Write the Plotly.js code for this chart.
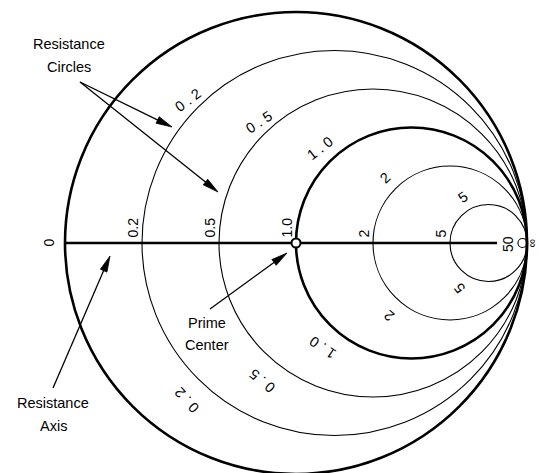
<!DOCTYPE html>
<html>
<head>
<meta charset="utf-8">
<script src="https://cdn.plot.ly/plotly-3.0.1.min.js"></script>
<style>html,body{margin:0;padding:0;background:#fff;}#chart{width:539px;height:473px;}</style>
</head>
<body>
<div id="chart"></div>
<script>
// ---- data ----
const circleResistances = [0, 0.2, 0.5, 1.0, 2, 5, 50];
const labelResistances = [0.2, 0.5, 1.0, 2, 5];
const labelTexts = ['0.2', '0.5', '1.0', '2', '5'];
const axisEndLabels = ['0', '50', '∞'];
const primeCenter = [0];
const calloutTexts = [['Resistance', 'Circles'], ['Resistance', 'Axis'], ['Prime', 'Center']];

// ---- layout geometry (pixels) ----
const W = 539, H = 473, CX = 296, CY = 243, RP = 231;
const px2x = p => (p - CX) / RP;
const py2y = p => (CY - p) / RP;
const FONT = 'Liberation Sans, Arial, sans-serif';

const shapes = [];
const annotations = [];

// resistance circles
circleResistances.forEach(r => {
  const c = r / (1 + r), rad = 1 / (1 + r);
  const thick = (r === 0 || r === 1);
  shapes.push({type: 'circle', xref: 'x', yref: 'y', x0: c - rad, x1: c + rad, y0: -rad, y1: rad,
    line: {color: '#000', width: thick ? 2.6 : 1.1}, layer: 'below'});
});
// resistance axis
shapes.push({type: 'line', xref: 'x', yref: 'y', x0: -1, x1: px2x(497), y0: 0, y1: 0,
  line: {color: '#000', width: 2.6}, layer: 'below'});

// circle labels (top and bottom)
const topPlace = [[135.7, 12, -37], [133.3, 12, -33], [133.9, 16, -38], [135, 15, -42], [119, 14, -35]];
const botPlace = [[-133.2, 23, -132], [-128.8, 23, -140], [-130.4, 22, -146], [-129.9, 18, -140], [-122.3, 15, -128]];
labelResistances.forEach((r, i) => {
  const c = r / (1 + r), rad = 1 / (1 + r);
  const txt = labelTexts[i].split('').join(' ');
  [topPlace[i], botPlace[i]].forEach(p => {
    const phi = p[0] * Math.PI / 180, d = rad + p[1] / RP;
    annotations.push({x: c + d * Math.cos(phi), y: d * Math.sin(phi), xref: 'x', yref: 'y',
      text: txt, showarrow: false, textangle: p[2], xanchor: 'center', yanchor: 'middle',
      font: {family: FONT, size: 14.5, color: '#000'}});
  });
  // axis tick label
  annotations.push({x: (r - 1) / (r + 1) - 9.5 / RP, y: 3 / RP, xref: 'x', yref: 'y',
    text: labelTexts[i], showarrow: false, textangle: -90, xanchor: 'center', yanchor: 'bottom',
    font: {family: FONT, size: 14, color: '#000'}});
});
// axis end labels
annotations.push({x: -1 - 16.5 / RP, y: 0, text: axisEndLabels[0], textangle: -90});
annotations.push({x: px2x(508), y: py2y(244), text: axisEndLabels[1], textangle: -90});
annotations.push({x: px2x(533), y: 0, text: axisEndLabels[2], textangle: 90, size: 12});
annotations.slice(-3).forEach(a => {
  Object.assign(a, {xref: 'x', yref: 'y', showarrow: false, xanchor: 'center', yanchor: 'middle',
    font: {family: FONT, size: a.size || 14, color: '#000'}});
  delete a.size;
});

// callouts
const calloutText = [[69, 44, 67], [53, 403, 426], [207, 323, 345]];
calloutTexts.forEach((lines, i) => {
  const p = calloutText[i];
  [p[1], p[2]].forEach((yy, k) => {
    annotations.push({x: px2x(p[0]), y: py2y(yy), xref: 'x', yref: 'y', text: lines[k], showarrow: false,
      xanchor: 'center', yanchor: 'middle', font: {family: FONT, size: 14.5, color: '#000'}});
  });
});
const arrows = [[80, 82, 172, 127], [80, 82, 218, 192], [53, 388, 110, 256], [210, 309, 287, 253]];
arrows.forEach(a => {
  const [sx, sy, tx, ty] = a;
  const dx = tx - sx, dy = ty - sy, L = Math.hypot(dx, dy);
  const ux = dx / L, uy = dy / L, nx = -uy, ny = ux;
  const HL = 16, HW = 3.6;
  const bx = tx - HL * ux, by = ty - HL * uy;
  shapes.push({type: 'line', xref: 'x', yref: 'y', x0: px2x(sx), y0: py2y(sy), x1: px2x(bx + 2 * ux), y1: py2y(by + 2 * uy),
    line: {color: '#000', width: 1.3}});
  const pts = [[tx, ty], [bx + HW * nx, by + HW * ny], [bx - HW * nx, by - HW * ny]];
  shapes.push({type: 'path', xref: 'x', yref: 'y',
    path: 'M' + pts.map(q => px2x(q[0]) + ',' + py2y(q[1])).join(' L') + ' Z',
    fillcolor: '#000', line: {color: '#000', width: 0.8}});
});

const traces = [{
  x: primeCenter, y: primeCenter.map(() => 0), type: 'scatter', mode: 'markers', hoverinfo: 'skip',
  marker: {symbol: 'circle', size: 9, color: '#fff', line: {color: '#000', width: 2}}
}];

const layout = {
  width: W, height: H, margin: {l: 0, r: 0, t: 0, b: 0},
  paper_bgcolor: '#fff', plot_bgcolor: '#fff', showlegend: false,
  xaxis: {range: [px2x(0), px2x(W)], visible: false, fixedrange: true},
  yaxis: {range: [py2y(H), py2y(0)], visible: false, fixedrange: true},
  shapes: shapes, annotations: annotations
};
Plotly.newPlot('chart', traces, layout, {displayModeBar: false, staticPlot: true});
</script>
</body>
</html>
